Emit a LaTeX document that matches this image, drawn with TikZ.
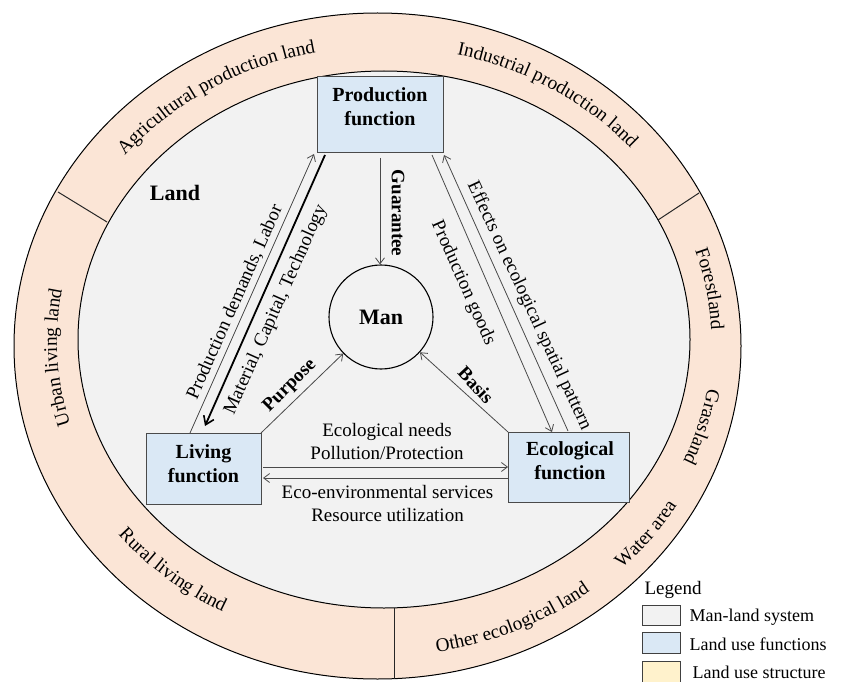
\documentclass[tikz,border=0pt]{standalone}
\usepackage{fontspec}
\setmainfont{Liberation Serif}
\usetikzlibrary{arrows.meta,calc,decorations.text}
\definecolor{ringpeach}{HTML}{FBE5D6}
\definecolor{innergray}{HTML}{F2F2F2}
\definecolor{boxblue}{HTML}{DAE8F5}
\definecolor{legyellow}{HTML}{FFF2CC}
\definecolor{linegray}{HTML}{4A4A4A}
\newcommand\ringfont{\fontsize{19.3}{19}\selectfont}
\begin{document}
\begin{tikzpicture}[x=1pt,y=-1pt,
  fbox/.style={draw=linegray, line width=1pt, fill=boxblue, inner sep=0pt, outer sep=0pt},
  boxtext/.style={font=\bfseries\fontsize{20}{24}\selectfont, align=center},
  conn/.style={draw=linegray, line width=0.8pt, -{Straight Barb[length=6pt,width=9pt]}},
  thickconn/.style={draw=black, line width=1.8pt, -{Straight Barb[length=8pt,width=11pt,line width=1.6pt]}},
  lbl/.style={font=\fontsize{19}{23}\selectfont, align=center},
  blbl/.style={font=\bfseries\fontsize{19}{23}\selectfont},
  sepline/.style={draw=black!85, line width=1pt},
  legbox/.style={draw=black!75, line width=0.9pt, minimum width=38pt, inner sep=0pt},
  legtext/.style={font=\fontsize{18}{18}\selectfont, anchor=west},
  ringtext/.style={decoration={text along path, text align=center, text={|\ringfont|#1}}, decorate}
]
\useasboundingbox (0,0) rectangle (841,682);
\fill[white] (0,0) rectangle (841,682);

% rings
\draw[line width=1pt, fill=ringpeach] (377.5,346) ellipse [x radius=363.5pt, y radius=333pt];
\draw[line width=1pt, fill=innergray] (384,339.5) ellipse [x radius=306pt, y radius=268.5pt];

% separators
\coordinate (sepA1) at (58,192);
\coordinate (sepA2) at (107,222);
\coordinate (sepB1) at (699,193);
\coordinate (sepB2) at (658,220);
\coordinate (sepC1) at (394,608);
\coordinate (sepC2) at (394,679);
\draw[sepline] (sepA1) -- (sepA2);
\draw[sepline] (sepB1) -- (sepB2);
\draw[sepline] (sepC1) -- (sepC2);

% ring labels (clockwise, tops outward)
\path[ringtext={Agricultural production land}] (381.3,342.2) ++(162:330.2pt and 295.6pt) arc[start angle=162, end angle=82, x radius=330.2pt, y radius=295.6pt];
\path[ringtext={Industrial production land}] (381.3,342.2) ++(98:330.2pt and 295.6pt) arc[start angle=98, end angle=18, x radius=330.2pt, y radius=295.6pt];
\path[ringtext={Urban living land}] (381.9,341.6) ++(223:325pt and 289.8pt) arc[start angle=223, end angle=143, x radius=325pt, y radius=289.8pt];
\path[ringtext={Forestland}] (381.3,342.2) ++(40:330.2pt and 295.6pt) arc[start angle=40, end angle=-20, x radius=330.2pt, y radius=295.6pt];
\path[ringtext={Grassland}] (381.3,342.2) ++(14:330.2pt and 295.6pt) arc[start angle=14, end angle=-46, x radius=330.2pt, y radius=295.6pt];
% ring labels (counter-clockwise, tops inward)
\path[ringtext={Rural living land}] (380.4,343.1) ++(200:337.6pt and 304pt) arc[start angle=200, end angle=260, x radius=337.6pt, y radius=304pt];
\path[ringtext={Other ecological land}] (379.6,343.9) ++(-98:345.1pt and 312.4pt) arc[start angle=-98, end angle=-34, x radius=345.1pt, y radius=312.4pt];
\path[ringtext={Water area}] (379.4,344.2) ++(-59:347pt and 314pt) arc[start angle=-59, end angle=-17, x radius=347pt, y radius=314pt];

% function boxes
\node[fbox, minimum width=126pt, minimum height=76pt] (prod) at (380,115) {};
\node[boxtext] (prodtxt) at (380,107) {Production\\function};
\node[fbox, minimum width=115pt, minimum height=71pt] (living) at (203.5,468.5) {};
\node[boxtext] (livtxt) at (203.5,463.5) {Living\\function};
\node[fbox, minimum width=121pt, minimum height=70pt] (eco) at (568.5,467) {};
\node[boxtext] (ecotxt) at (570,461) {Ecological\\function};

% man
\node[circle, draw=black, line width=1.1pt, minimum size=104pt, inner sep=0pt, font=\bfseries\fontsize{22}{22}\selectfont] (man) at (381,317) {Man};
\node[font=\bfseries\fontsize{22}{22}\selectfont] (land) at (175,193) {Land};

% connectors
\draw[conn] ($(living.north west)+(44,0)$) -- ($(prod.south west)+(-3,1)$);
\draw[thickconn] ($(prod.south west)+(8,2)$) -- ($(living.north west)+(59,-7)$);
\draw[conn] ($(prod.south)+(0,5)$) -- (prod.south |- man.north);
\draw[conn] (living.north east) -- (man);
\draw[conn] (eco.north west) -- (man);
\draw[conn] ($(prod.south east)+(-11,2)$) -- ($(eco.north west)+(44,0)$);
\draw[conn] ($(eco.north west)+(60,-1)$) -- ($(prod.south east)+(1,2)$);
\draw[conn] ($(living.east)+(2,-1.5)$) -- (eco.west);
\draw[conn] ($(eco.west)+(0,11)$) -- ($(living.east)+(2,9.5)$);

% connector labels
\node[lbl, rotate=66] (lab1) at (235,302) {Production demands, Labor};
\node[lbl, rotate=66] (lab2) at (276,310) {Material, Capital, Technology};
\node[blbl, rotate=-90] (lab3) at (398,213) {Guarantee};
\node[blbl, rotate=45] (lab4) at (290,386) {Purpose};
\node[blbl, rotate=-47] (lab5) at (476,385) {Basis};
\node[lbl, rotate=-66] (lab6) at (463,283) {Production goods};
\node[lbl, rotate=-65] (lab7) at (529,306) {Effects on ecological spatial pattern};
\node[lbl] (lab8) at (387,441.5) {Ecological needs\\Pollution/Protection};
\node[lbl] (lab9) at (387.5,503) {Eco-environmental services\\Resource utilization};

% legend
\node[anchor=west, font=\fontsize{19}{19}\selectfont] (legtitle) at (641,590) {Legend};
\node[legbox, fill=innergray, minimum height=20pt] (lb1) at (661,615) {};
\node[legbox, fill=boxblue, minimum height=21pt] (lb2) at (661,642.5) {};
\node[legbox, fill=legyellow, minimum height=22pt] (lb3) at (661,672) {};
\node[legtext] (lt1) at (686,617) {Man-land system};
\node[legtext] (lt2) at (686,644) {Land use functions};
\node[legtext] (lt3) at (689,672) {Land use structure};
\end{tikzpicture}
\end{document}
